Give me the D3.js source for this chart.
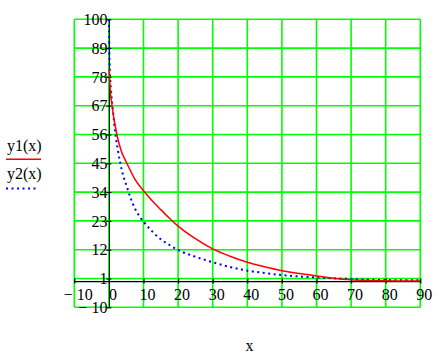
<!DOCTYPE html>
<html>
<head>
<meta charset="utf-8">
<script src="https://cdn.jsdelivr.net/npm/d3@7"></script>
<style>
  html, body { margin: 0; padding: 0; background: #fff; }
  svg text { font-family: "Liberation Serif", "Times New Roman", serif; }
</style>
</head>
<body>
<svg id="chart" width="447" height="357"></svg>
<script>
// ---- data ----
const xTicks = [-10, 0, 10, 20, 30, 40, 50, 60, 70, 80, 90];
const yTicks = [-10, 1, 12, 23, 34, 45, 56, 67, 78, 89, 100];
const xTickLabels = ["\u2212 10", "0", "10", "20", "30", "40", "50", "60", "70", "80", "90"];
const yTickLabels = ["\u2212 10", "1", "12", "23", "34", "45", "56", "67", "78", "89", "100"];

const y1X = [0.1, 0.4, 0.9, 2.3, 3.5, 5.2, 7.5, 10, 12.5, 15, 17.5, 20, 25, 30, 35, 40, 45, 50, 55, 60, 65, 70, 75, 80, 85, 90];
const y1Y = [81, 73, 67, 56, 50, 45, 39, 34.5, 30.7, 27.3, 24, 21, 16.2, 12.3, 9.5, 7.2, 5.5, 4.0, 2.9, 2.0, 1.1, 0.5, 0.25, 0.1, 0.05, 0.02];

const y2X = [0.02, 0.1, 0.3, 0.6, 1.1, 1.9, 2.6, 3.3, 4.2, 5.2, 6.2, 7.5, 9, 10, 12.5, 15, 17.5, 20, 25, 30, 35, 40, 45, 50, 55, 60, 70, 80, 90];
const y2Y = [100, 90, 80, 73, 66, 56, 50, 45, 40, 36, 32, 27.8, 24.4, 22.7, 19, 16, 13.8, 11.9, 9.3, 7.2, 5.4, 4.0, 3.1, 2.3, 1.8, 1.4, 0.8, 0.4, 0.3];

const legendLabels = ["y1(x)", "y2(x)"];
const xLabel = "x";

// ---- layout ----
const FS = 16;
const svg = d3.select("#chart");
const x = d3.scaleLinear().domain([-10, 90]).range([74.3, 420.3]);
const y = d3.scaleLinear().domain([-10, 100]).range([307.3, 19.3]);
const green = "#00ff00";

// grid
const grid = svg.append("g");
grid.selectAll("line.gx").data(xTicks).enter().append("line")
  .attr("x1", d => x(d)).attr("x2", d => x(d))
  .attr("y1", y(100)).attr("y2", y(-10))
  .attr("stroke", green).attr("stroke-width", 1.6);
grid.selectAll("line.gy").data(yTicks).enter().append("line")
  .attr("y1", d => y(d)).attr("y2", d => y(d))
  .attr("x1", x(-10)).attr("x2", x(90))
  .attr("stroke", green).attr("stroke-width", 1.6);

// axes
const yAxis = svg.append("g")
  .attr("transform", `translate(${x(0)},0)`)
  .call(d3.axisLeft(y).tickValues(yTicks).tickSizeInner(2).tickSizeOuter(0).tickPadding(0)
    .tickFormat((d, i) => yTickLabels[i]));
yAxis.selectAll(".tick line").attr("x1", -2.5).attr("x2", 2.5).attr("stroke", "#000").attr("stroke-width", 1.2);
yAxis.select(".domain").attr("stroke", "#000").attr("stroke-width", 1);
yAxis.selectAll(".tick text").attr("font-size", FS).attr("fill", "#000").attr("x", -1.5)
  .attr("font-family", "Liberation Serif, serif");

const xAxis = svg.append("g")
  .attr("transform", `translate(0,${y(0)})`)
  .call(d3.axisBottom(x).tickValues(xTicks).tickSizeInner(2.5).tickSizeOuter(0).tickPadding(5)
    .tickFormat((d, i) => xTickLabels[i]));
xAxis.selectAll(".tick line").attr("y1", -2.5).attr("y2", 2.5).attr("stroke", "#000").attr("stroke-width", 1.2);
xAxis.select(".domain").attr("stroke", "#000").attr("stroke-width", 1.2);
xAxis.selectAll(".tick text").attr("font-size", FS).attr("fill", "#000").attr("dx", 3.5)
  .attr("font-family", "Liberation Serif, serif");

// curves
svg.append("clipPath").attr("id", "clip").append("rect")
  .attr("x", x(-10)).attr("y", y(100)).attr("width", x(90) - x(-10)).attr("height", y(-10) - y(100));

const lineGen = d3.line().x(d => x(d[0])).y(d => y(d[1])).curve(d3.curveMonotoneX);
const s1 = y1X.map((v, i) => [v, y1Y[i]]);
const s2 = y2X.map((v, i) => [v, y2Y[i]]);

svg.append("path").attr("clip-path", "url(#clip)").datum(s2)
  .attr("d", lineGen)
  .attr("fill", "none").attr("stroke", "#0000ff").attr("stroke-width", 2)
  .attr("stroke-dasharray", "2,3.5");
svg.append("path").attr("clip-path", "url(#clip)").datum(s1)
  .attr("d", lineGen)
  .attr("fill", "none").attr("stroke", "#ff0000").attr("stroke-width", 1.5);

// legend
const leg = svg.append("g");
leg.append("text").attr("x", 7).attr("y", 150.5).attr("font-size", FS).text(legendLabels[0]);
leg.append("line").attr("x1", 6).attr("x2", 41).attr("y1", 159.3).attr("y2", 159.3)
  .attr("stroke", "#ff0000").attr("stroke-width", 1.5);
leg.append("text").attr("x", 7).attr("y", 178.5).attr("font-size", FS).text(legendLabels[1]);
leg.append("line").attr("x1", 6).attr("x2", 38).attr("y1", 188.5).attr("y2", 188.5)
  .attr("stroke", "#0000ff").attr("stroke-width", 2).attr("stroke-dasharray", "2,3.5");

// x label
svg.append("text").attr("x", 249.5).attr("y", 351).attr("text-anchor", "middle")
  .attr("font-size", FS).text(xLabel);
</script>
</body>
</html>
